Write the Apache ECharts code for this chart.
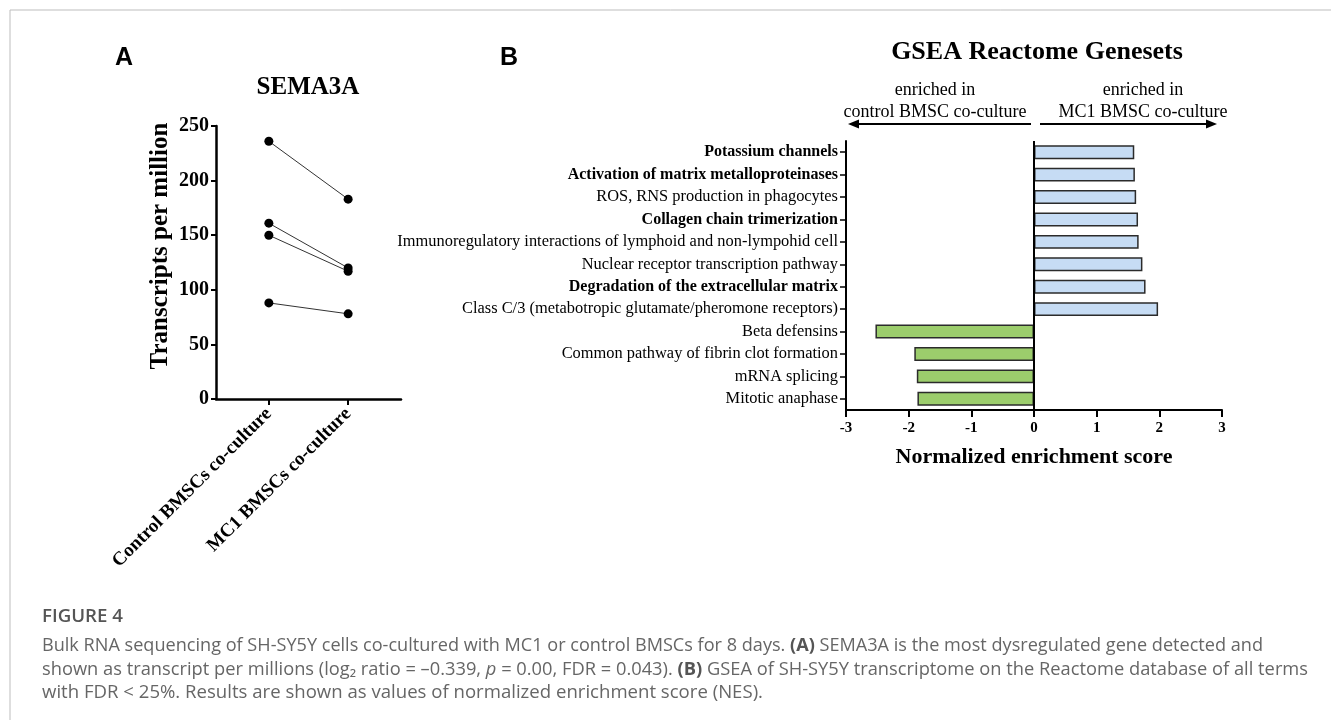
<!DOCTYPE html>
<html>
<head>
<meta charset="utf-8">
<script src="https://cdn.jsdelivr.net/npm/echarts@6/dist/echarts.min.js"></script>
<style>
html,body{margin:0;padding:0;background:#fff;}
#chart{width:1331px;height:720px;}
</style>
</head>
<body>
<div id="chart"></div>
<script>
// ---------- Data ----------
const groupsA = ['Control BMSCs co-culture', 'MC1 BMSCs co-culture'];
const controlTPM = [236, 161, 150, 88];
const mc1TPM = [183, 120, 117, 78];

const genesets = [
  'Potassium channels',
  'Activation of matrix metalloproteinases',
  'ROS, RNS production in phagocytes',
  'Collagen chain trimerization',
  'Immunoregulatory interactions of lymphoid and non-lympohid cell',
  'Nuclear receptor transcription pathway',
  'Degradation of the extracellular matrix',
  'Class C/3 (metabotropic glutamate/pheromone receptors)',
  'Beta defensins',
  'Common pathway of fibrin clot formation',
  'mRNA splicing',
  'Mitotic anaphase'
];
const nes = [1.60, 1.61, 1.63, 1.66, 1.67, 1.73, 1.78, 1.98, -2.53, -1.91, -1.87, -1.86];
const boldSets = [
  'Potassium channels',
  'Activation of matrix metalloproteinases',
  'Collagen chain trimerization',
  'Degradation of the extracellular matrix'
];

const captionTitle = 'FIGURE 4';
const captionLines = [
  [['n','Bulk RNA sequencing of SH-SY5Y cells co-cultured with MC1 or control BMSCs for 8 days. '],['b','(A)'],['n',' SEMA3A is the most dysregulated gene detected and']],
  [['n','shown as transcript per millions (log\u2082 ratio = \u20130.339, '],['i','p'],['n',' = 0.00, FDR = 0.043). '],['b','(B)'],['n',' GSEA of SH-SY5Y transcriptome on the Reactome database of all terms']],
  [['n','with FDR < 25%. Results are shown as values of normalized enrichment score (NES).']]
];

// ---------- Styles ----------
const SERIF = '"Liberation Serif", "Times New Roman", serif';
const SANS = '"Liberation Sans", Arial, sans-serif';
const CAP = '"Open Sans", "Noto Sans", sans-serif';
const BLUE = '#c6dcf4';
const GREEN = '#9ccd6c';

const chart = echarts.init(document.getElementById('chart'));

// Panel A series
const seriesA = controlTPM.map((c, i) => ({
  type: 'line',
  xAxisIndex: 0, yAxisIndex: 0,
  data: [[1, c], [2, mc1TPM[i]]],
  symbol: 'circle', symbolSize: 9,
  itemStyle: { color: '#000' },
  lineStyle: { color: '#333', width: 1 },
  silent: true, animation: false
}));

// Panel B bars
const barData = nes.map(v => ({
  value: v,
  itemStyle: { color: v >= 0 ? BLUE : GREEN, borderColor: '#2b2b2b', borderWidth: 1.5 }
}));

// Caption with measured horizontal fit
const cv = document.createElement('canvas').getContext('2d');
const capSize = 18;
const capFonts = {
  n: `400 ${capSize}px ${CAP}`,
  b: `700 ${capSize}px ${CAP}`,
  i: `italic 400 ${capSize}px ${CAP}`
};
function measureLine(parts) {
  let w = 0;
  parts.forEach(p => { cv.font = capFonts[p[0]]; w += cv.measureText(p[1]).width; });
  return w;
}
const capX = 42;
const capEnds = [1263, 1308, 763];
const capYs = [646, 670, 693];
const capGraphics = captionLines.map((parts, k) => {
  const w = measureLine(parts);
  const sx = (capEnds[k] - capX) / w;
  return {
    type: 'text', x: capX, y: capYs[k], scaleX: sx, silent: true,
    style: {
      text: parts.map(p => `{${p[0]}|${p[1].replace(/[{}|]/g, '')}}`).join(''),
      verticalAlign: 'middle', align: 'left',
      rich: {
        n: { fontFamily: CAP, fontSize: capSize, fill: '#666', fontWeight: 400 },
        b: { fontFamily: CAP, fontSize: capSize, fill: '#555', fontWeight: 700 },
        i: { fontFamily: CAP, fontSize: capSize, fill: '#666', fontStyle: 'italic' }
      }
    }
  };
});
cv.font = `600 18px ${CAP}`;
const figTitleScale = 81 / cv.measureText(captionTitle).width;

function arrow(x1, x2, y) {
  const dir = x2 > x1 ? 1 : -1;
  const base = x2 - dir * 11;
  return [
    { type: 'line', silent: true, shape: { x1: x1, y1: y, x2: base, y2: y }, style: { stroke: '#000', lineWidth: 2 } },
    { type: 'polygon', silent: true, shape: { points: [[x2, y], [base, y - 4.5], [base, y + 4.5]] }, style: { fill: '#000' } }
  ];
}

const option = {
  animation: false,
  backgroundColor: '#fff',
  grid: [
    { left: 216, right: 930, top: 126, bottom: 321, containLabel: false },
    { left: 846, right: 109, top: 141, bottom: 310, containLabel: false }
  ],
  xAxis: [
    {
      gridIndex: 0, type: 'value', min: 1 / 3, max: 8 / 3,
      splitLine: { show: false },
      axisLine: { show: true, onZero: false, lineStyle: { color: '#000', width: 2.5 } },
      axisTick: { show: true, customValues: [1, 2], length: 6, lineStyle: { color: '#000', width: 2 } },
      axisLabel: {
        customValues: [1, 2], rotate: 45, margin: 12,
        formatter: v => (Math.abs(v - 1) < 0.01 ? groupsA[0] : groupsA[1]),
        fontFamily: SERIF, fontWeight: 'bold', fontSize: 19, color: '#000'
      }
    },
    {
      gridIndex: 1, type: 'value', min: -3, max: 3, interval: 1,
      splitLine: { show: false },
      axisLine: { show: true, onZero: false, lineStyle: { color: '#000', width: 2 } },
      axisTick: { show: true, length: 7, lineStyle: { color: '#000', width: 2 } },
      axisLabel: { fontFamily: SERIF, fontWeight: 'bold', fontSize: 15, color: '#000', margin: 11 },
      name: 'Normalized enrichment score', nameLocation: 'middle', nameGap: 36,
      nameTextStyle: { fontFamily: SERIF, fontWeight: 'bold', fontSize: 22, color: '#000' }
    }
  ],
  yAxis: [
    {
      gridIndex: 0, type: 'value', min: 0, max: 250, interval: 50,
      splitLine: { show: false },
      axisLine: { show: true, lineStyle: { color: '#000', width: 2.5 } },
      axisTick: { show: true, length: 5, lineStyle: { color: '#000', width: 2 } },
      axisLabel: { fontFamily: SERIF, fontWeight: 'bold', fontSize: 20, color: '#000', margin: 7 }
    },
    {
      gridIndex: 1, type: 'category', data: genesets, inverse: true,
      axisLine: { show: true, onZero: false, lineStyle: { color: '#000', width: 2 } },
      axisTick: { show: true, alignWithLabel: true, length: 6, lineStyle: { color: '#000', width: 1.5 } },
      axisLabel: {
        margin: 8, interval: 0,
        formatter: v => (boldSets.includes(v) ? `{b|${v}}` : `{n|${v}}`),
        rich: {
          b: { fontFamily: SERIF, fontWeight: 'bold', fontSize: 16, color: '#000' },
          n: { fontFamily: SERIF, fontWeight: 'normal', fontSize: 16.4, color: '#000' }
        }
      }
    }
  ],
  series: seriesA.concat([
    {
      type: 'bar', xAxisIndex: 1, yAxisIndex: 1,
      data: barData, barCategoryGap: '38%', silent: true,
      markLine: {
        silent: true, symbol: ['none', 'none'], label: { show: false },
        lineStyle: { color: '#000', width: 2, type: 'solid' },
        data: [{ xAxis: 0 }]
      }
    }
  ]),
  graphic: [
    { type: 'line', silent: true, shape: { x1: 10, y1: 10, x2: 1331, y2: 10 }, style: { stroke: '#bdbdbd', lineWidth: 1 } },
    { type: 'line', silent: true, shape: { x1: 10, y1: 10, x2: 10, y2: 720 }, style: { stroke: '#bdbdbd', lineWidth: 1 } },
    { type: 'text', x: 115, y: 58, silent: true, style: { text: 'A', font: `bold 25px ${SANS}`, fill: '#000', verticalAlign: 'middle' } },
    { type: 'text', x: 500, y: 58, silent: true, style: { text: 'B', font: `bold 25px ${SANS}`, fill: '#000', verticalAlign: 'middle' } },
    { type: 'text', x: 308, y: 88, silent: true, style: { text: 'SEMA3A', font: `bold 25px ${SERIF}`, fill: '#000', align: 'center', verticalAlign: 'middle' } },
    { type: 'text', x: 161, y: 246, rotation: Math.PI / 2, silent: true, style: { text: 'Transcripts per million', font: `bold 25px ${SERIF}`, fill: '#000', align: 'center', verticalAlign: 'middle' } },
    { type: 'text', x: 1037, y: 52, silent: true, style: { text: 'GSEA Reactome Genesets', font: `bold 26px ${SERIF}`, fill: '#000', align: 'center', verticalAlign: 'middle' } },
    { type: 'text', x: 935, y: 90, silent: true, style: { text: 'enriched in', font: `18px ${SERIF}`, fill: '#000', align: 'center', verticalAlign: 'middle' } },
    { type: 'text', x: 935, y: 112, silent: true, style: { text: 'control BMSC co-culture', font: `18px ${SERIF}`, fill: '#000', align: 'center', verticalAlign: 'middle' } },
    { type: 'text', x: 1143, y: 90, silent: true, style: { text: 'enriched in', font: `18px ${SERIF}`, fill: '#000', align: 'center', verticalAlign: 'middle' } },
    { type: 'text', x: 1143, y: 112, silent: true, style: { text: 'MC1 BMSC co-culture', font: `18px ${SERIF}`, fill: '#000', align: 'center', verticalAlign: 'middle' } },
    ...arrow(1031, 848, 124),
    ...arrow(1040, 1217, 124),
    { type: 'text', x: capX, y: 617, scaleX: figTitleScale, silent: true, style: { text: captionTitle, font: `600 18px ${CAP}`, fill: '#555', verticalAlign: 'middle' } },
    ...capGraphics
  ]
};
chart.setOption(option);
</script>
</body>
</html>
